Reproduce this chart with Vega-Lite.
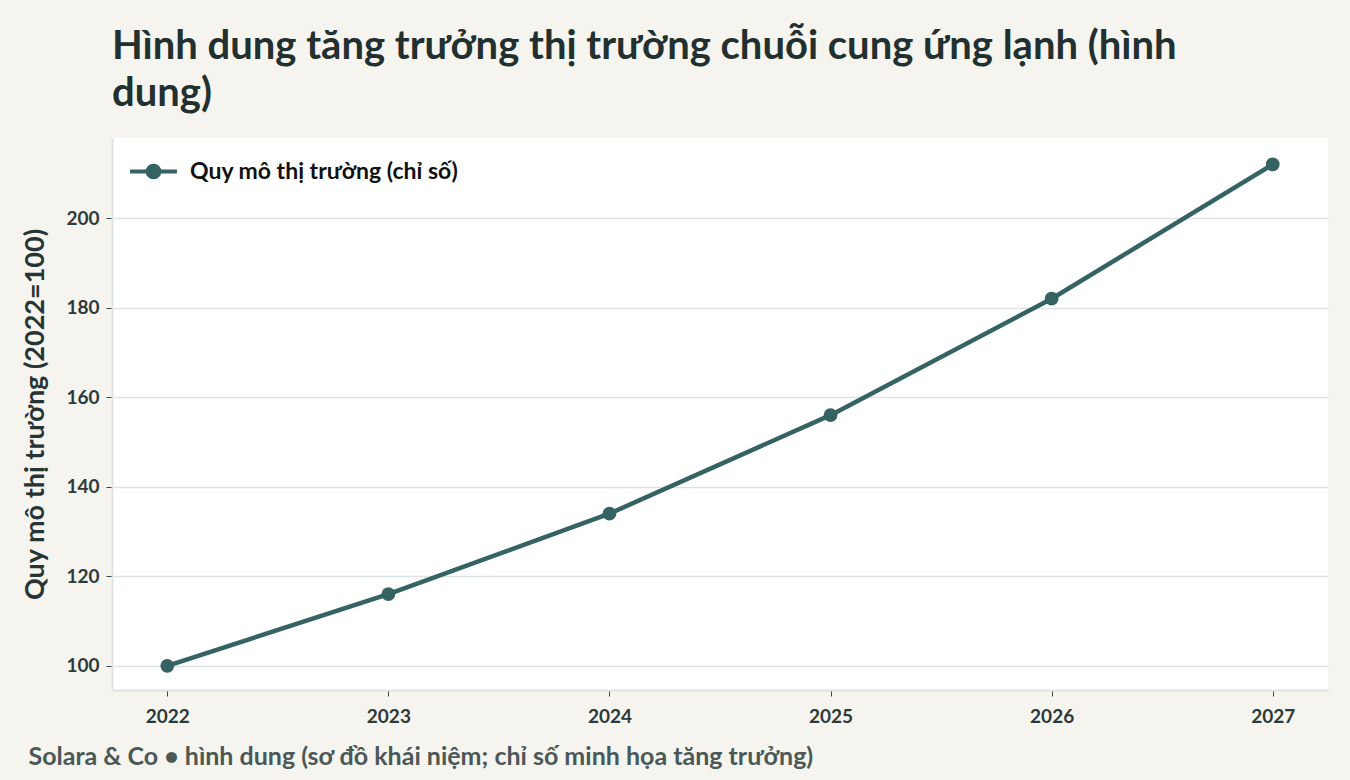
{
  "$schema": "https://vega.github.io/schema/vega-lite/v6.json",
  "width": 1216,
  "height": 552,
  "autosize": "none",
  "padding": {"left": 112, "top": 138, "right": 22, "bottom": 90},
  "background": "#f5f4ef",
  "config": {
    "font": "Lato",
    "view": {"fill": "white", "stroke": null},
    "axis": {
      "domainColor": "#dde3e3",
      "domainWidth": 2,
      "gridColor": "#dde3e3",
      "gridWidth": 1.5,
      "tickColor": "#3a4848",
      "tickSize": 6,
      "labelFont": "Lato",
      "labelFontSize": 19,
      "labelFontWeight": "bold",
      "labelColor": "#2d3a3a",
      "titleFont": "Lato",
      "titleColor": "#263434"
    }
  },
  "title": {
    "text": ["Hình dung tăng trưởng thị trường chuỗi cung ứng lạnh (hình", "dung)"],
    "anchor": "start",
    "frame": "group",
    "font": "Lato",
    "fontSize": 40,
    "fontWeight": "bold",
    "color": "#223030",
    "lineHeight": 47,
    "offset": 24
  },
  "data": {
    "values": [
      {"year": 2022, "value": 100, "series": "Quy mô thị trường (chỉ số)"},
      {"year": 2023, "value": 116, "series": "Quy mô thị trường (chỉ số)"},
      {"year": 2024, "value": 134, "series": "Quy mô thị trường (chỉ số)"},
      {"year": 2025, "value": 156, "series": "Quy mô thị trường (chỉ số)"},
      {"year": 2026, "value": 182, "series": "Quy mô thị trường (chỉ số)"},
      {"year": 2027, "value": 212, "series": "Quy mô thị trường (chỉ số)"}
    ]
  },
  "mark": {"type": "line", "strokeWidth": 4.5, "point": {"size": 190, "filled": true, "opacity": 1}},
  "encoding": {
    "x": {
      "field": "year",
      "type": "quantitative",
      "scale": {"domain": [2021.75, 2027.25], "nice": false, "zero": false},
      "axis": {
        "values": [2022, 2023, 2024, 2025, 2026, 2027],
        "format": "d",
        "grid": false,
        "labelPadding": 11,
        "title": "Solara & Co • hình dung (sơ đồ khái niệm; chỉ số minh họa tăng trưởng)",
        "titleAnchor": "start",
        "titleAlign": "left",
        "titleX": -84,
        "titleFontSize": 25,
        "titleFontWeight": "bold",
        "titleColor": "#4b5858",
        "titlePadding": 18
      }
    },
    "y": {
      "field": "value",
      "type": "quantitative",
      "scale": {"domain": [94.6, 217.9], "nice": false, "zero": false},
      "axis": {
        "values": [100, 120, 140, 160, 180, 200],
        "labelPadding": 7,
        "title": "Quy mô thị trường (2022=100)",
        "titleFontSize": 27,
        "titleFontWeight": "bold",
        "titlePadding": 16
      }
    },
    "color": {
      "field": "series",
      "type": "nominal",
      "scale": {"range": ["#356262"]},
      "legend": {
        "title": null,
        "orient": "none",
        "legendX": 16,
        "legendY": 8,
        "symbolType": "M-1,0H1M-0.25,0A0.25,0.25 0 1,0 0.25,0A0.25,0.25 0 1,0 -0.25,0Z",
        "symbolSize": 2200,
        "symbolStrokeWidth": 4,
        "symbolFillColor": "#356262",
        "symbolStrokeColor": "#356262",
        "labelFont": "Lato",
        "labelFontSize": 23,
        "labelFontWeight": "bold",
        "labelColor": "#111111",
        "labelLimit": 0,
        "labelOffset": 11
      }
    }
  }
}
